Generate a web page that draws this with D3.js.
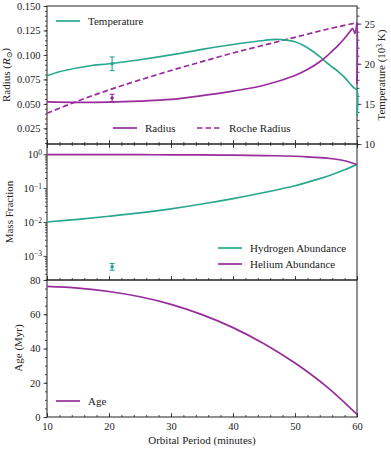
<!DOCTYPE html>
<html>
<head>
<meta charset="utf-8">
<script src="https://cdn.jsdelivr.net/npm/d3@7"></script>
<style>
  body { margin: 0; background: #fff; }
  svg text { font-family: "Liberation Serif", "DejaVu Serif", serif; fill: #222; }
</style>
</head>
<body>
<svg id="chart" width="391" height="449" font-family="Liberation Serif, serif"></svg>
<script>
// orbital period (minutes) for each series
let periodTemp = [10, 12, 15, 17, 20, 25, 30, 35, 40, 45, 47, 50, 52, 54, 55, 56, 57, 58, 59, 59.5, 60, 60];
let temperature = [18.5, 19.0, 19.5, 19.75, 20.0, 20.5, 21.1, 21.8, 22.4, 22.9, 23.05, 22.75, 22.0, 20.9, 20.2, 19.6, 19.0, 18.3, 17.4, 17.0, 16.7, 13.5];

let periodRad = [10, 15, 20, 25, 30, 35, 40, 45, 50, 52, 54, 55, 56, 57, 58, 59, 59.3, 59.7, 60, 60];
let radius = [0.052, 0.0515, 0.0518, 0.0528, 0.0545, 0.0585, 0.063, 0.069, 0.079, 0.085, 0.093, 0.098, 0.104, 0.110, 0.117, 0.125, 0.127, 0.122, 0.133, 0.070];

let periodRoche = [10, 15, 20, 25, 30, 35, 40, 45, 50, 55, 60];
let rocheRadius = [0.0404, 0.0530, 0.0642, 0.0745, 0.0841, 0.0932, 0.102, 0.110, 0.118, 0.126, 0.133];

let periodAbund = [10, 15, 20, 25, 30, 35, 40, 45, 50, 52, 54, 56, 58, 60];
let hydrogen = [0.0100, 0.0120, 0.0148, 0.0186, 0.0245, 0.0339, 0.0490, 0.0741, 0.117, 0.148, 0.190, 0.251, 0.347, 0.50];
let helium = [0.975, 0.973, 0.970, 0.966, 0.960, 0.951, 0.936, 0.911, 0.868, 0.837, 0.795, 0.734, 0.638, 0.49];

let periodAge = [10, 15, 20, 25, 30, 35, 40, 45, 50, 55, 60];
let age = [76.3, 75.3, 73.3, 70.2, 65.8, 59.8, 52.2, 42.8, 31.5, 18, 1.5];

// observed values with error bars
let obsPeriod = 20.5;
let obsTemp = [20.0, 0.85];
let obsRadius = [0.056, 0.0038];
let obsHydrogen = [4.8e-4, 3.8e-4, 6.0e-4];

let radiusTicks = [0.025, 0.050, 0.075, 0.100, 0.125, 0.150];
let tempTicks = [10, 15, 20, 25];
let massTicks = [1e-3, 1e-2, 1e-1, 1];
let ageTicks = [0, 20, 40, 60, 80];
let periodTicks = [10, 20, 30, 40, 50, 60];

let teal = '#2aa88f', purple = '#972c9c';
let left = 47, right = 357;
let panels = [[6, 144], [144, 280], [280, 417]];

let svg = d3.select('#chart');

let x = d3.scaleLinear().domain([10, 60]).range([left, right]);
let yRad = d3.scaleLinear().domain([0.009, 0.150]).range([panels[0][1], panels[0][0]]);
let yTemp = d3.scaleLinear().domain([10, 27.2]).range([panels[0][1], panels[0][0]]);
let yMass = d3.scaleLog().domain([Math.pow(10, -3.71), Math.pow(10, 0.3)]).range([panels[1][1], panels[1][0]]);
let yAge = d3.scaleLinear().domain([0, 80]).range([panels[2][1], panels[2][0]]);

function styleAxis(g) {
	g.attr('font-family', 'Liberation Serif, serif');
	g.select('.domain').remove();
	g.selectAll('line').attr('stroke', '#222').attr('stroke-width', 0.8);
	g.selectAll('text').attr('font-size', '10.5px').attr('fill', '#222');
}

// x ticks on panel edges
panels.forEach(function(p, i) {
	svg.append('g')
		.attr('transform', 'translate(0,' + p[1] + ')')
		.call(d3.axisTop(x).tickValues(d3.range(10, 61, 2)).tickSize(2).tickFormat(''))
		.call(styleAxis);
	svg.append('g')
		.attr('transform', 'translate(0,' + p[1] + ')')
		.call(d3.axisTop(x).tickValues(periodTicks).tickSize(4).tickFormat(''))
		.call(styleAxis);
});
svg.append('g')
	.attr('transform', 'translate(0,' + panels[1][0] + ')')
	.call(d3.axisBottom(x).tickValues(d3.range(10, 61, 2)).tickSize(2).tickFormat(''))
	.call(styleAxis);
svg.append('g')
	.attr('transform', 'translate(0,' + panels[1][0] + ')')
	.call(d3.axisBottom(x).tickValues(periodTicks).tickSize(4).tickFormat(''))
	.call(styleAxis);

// bottom labels
svg.append('g')
	.attr('transform', 'translate(0,' + panels[2][1] + ')')
	.call(d3.axisBottom(x).tickValues(periodTicks).tickSize(0).tickPadding(6).tickFormat(d3.format('d')))
	.call(styleAxis);

// left axes
svg.append('g').attr('transform', 'translate(' + left + ',0)')
	.call(d3.axisLeft(yRad).tickValues(d3.range(0.010, 0.1501, 0.005)).tickSize(2).tickFormat(''))
	.call(styleAxis);
svg.append('g').attr('transform', 'translate(' + left + ',0)')
	.call(d3.axisLeft(yRad).tickValues(radiusTicks).tickSize(3.5).tickPadding(3).tickFormat(d3.format('.3f')))
	.call(styleAxis);

let minorMass = [];
[-4, -3, -2, -1, 0].forEach(function(e) {
	for (let k = 2; k <= 9; k++) {
		let v = k * Math.pow(10, e);
		if (v > yMass.domain()[0] && v < yMass.domain()[1]) minorMass.push(v);
	}
});
svg.append('g').attr('transform', 'translate(' + left + ',0)')
	.call(d3.axisLeft(yMass).tickValues(minorMass).tickSize(2).tickFormat(''))
	.call(styleAxis);
let massAxis = svg.append('g').attr('transform', 'translate(' + left + ',0)')
	.call(d3.axisLeft(yMass).tickValues(massTicks).tickSize(3.5).tickPadding(3).tickFormat(''))
	.call(styleAxis);
massAxis.selectAll('.tick').append('text')
	.attr('x', -5).attr('dy', '0.32em')
	.attr('text-anchor', 'end').attr('font-size', '10.5px')
	.each(function(d) {
		let e = Math.round(Math.log10(d));
		let t = d3.select(this);
		t.append('tspan').text('10');
		t.append('tspan').attr('dy', '-0.45em').attr('font-size', '7.5px')
			.text(e < 0 ? '\u2212' + (-e) : String(e));
	});

svg.append('g').attr('transform', 'translate(' + left + ',0)')
	.call(d3.axisLeft(yAge).tickValues(d3.range(0, 81, 5)).tickSize(2).tickFormat(''))
	.call(styleAxis);
svg.append('g').attr('transform', 'translate(' + left + ',0)')
	.call(d3.axisLeft(yAge).tickValues(ageTicks).tickSize(3.5).tickPadding(3).tickFormat(d3.format('d')))
	.call(styleAxis);

// right temperature axis
svg.append('g').attr('transform', 'translate(' + right + ',0)')
	.call(d3.axisRight(yTemp).tickValues(d3.range(10, 27.1, 1)).tickSize(2.5).tickFormat(''))
	.call(styleAxis);
svg.append('g').attr('transform', 'translate(' + right + ',0)')
	.call(d3.axisRight(yTemp).tickValues(tempTicks).tickSize(4.5).tickPadding(3).tickFormat(d3.format('d')))
	.call(styleAxis);

// panel frames
panels.forEach(function(p) {
	svg.append('rect')
		.attr('x', left).attr('y', p[0])
		.attr('width', right - left).attr('height', p[1] - p[0])
		.attr('fill', 'none').attr('stroke', '#222').attr('stroke-width', 1);
});

let curve = d3.curveCatmullRom.alpha(0.5);
function drawLine(px, py, ys, color, dash) {
	let line = d3.line().curve(curve)
		.x(function(d, i) { return x(px[i]); })
		.y(function(d) { return ys(d); });
	svg.append('path').datum(py)
		.attr('d', line)
		.attr('fill', 'none')
		.attr('stroke', color)
		.attr('stroke-width', 1.7)
		.attr('stroke-dasharray', dash || null);
}

drawLine(periodRoche, rocheRadius, yRad, purple, '5.5,3');
drawLine(periodTemp, temperature, yTemp, teal);
drawLine(periodRad, radius, yRad, purple);
drawLine(periodAbund, hydrogen, yMass, teal);
drawLine(periodAbund, helium, yMass, purple);
drawLine(periodAge, age, yAge, purple);

function errorBar(cx, lo, hi, mid, color) {
	let g = svg.append('g').attr('stroke', color).attr('stroke-width', 1.1);
	g.append('line').attr('x1', cx).attr('x2', cx).attr('y1', lo).attr('y2', hi);
	g.append('line').attr('x1', cx - 2.5).attr('x2', cx + 2.5).attr('y1', lo).attr('y2', lo);
	g.append('line').attr('x1', cx - 2.5).attr('x2', cx + 2.5).attr('y1', hi).attr('y2', hi);
	svg.append('circle').attr('cx', cx).attr('cy', mid).attr('r', 1.8).attr('fill', color);
}
errorBar(x(obsPeriod), yTemp(obsTemp[0] - obsTemp[1]), yTemp(obsTemp[0] + obsTemp[1]), yTemp(obsTemp[0]), teal);
errorBar(x(obsPeriod), yRad(obsRadius[0] - obsRadius[1]), yRad(obsRadius[0] + obsRadius[1]), yRad(obsRadius[0]), purple);
errorBar(x(obsPeriod), yMass(obsHydrogen[1]), yMass(obsHydrogen[2]), yMass(obsHydrogen[0]), teal);

// legends
function legendItem(lx, ly, label, color, dash) {
	svg.append('line')
		.attr('x1', lx).attr('x2', lx + 24).attr('y1', ly).attr('y2', ly)
		.attr('stroke', color).attr('stroke-width', 1.7)
		.attr('stroke-dasharray', dash || null);
	svg.append('text')
		.attr('x', lx + 32).attr('y', ly).attr('dy', '0.35em')
		.attr('font-size', '11px').text(label);
}
legendItem(56, 21, 'Temperature', teal);
legendItem(113, 128, 'Radius', purple);
legendItem(197, 128, 'Roche Radius', purple, '5.5,3');
legendItem(218, 248, 'Hydrogen Abundance', teal);
legendItem(218, 264, 'Helium Abundance', purple);
legendItem(56, 401, 'Age', purple);

// axis titles
let radLabel = svg.append('text')
	.attr('transform', 'translate(10,75) rotate(-90)')
	.attr('text-anchor', 'middle').attr('font-size', '11px');
radLabel.append('tspan').text('Radius (');
radLabel.append('tspan').attr('font-style', 'italic').text('R');
radLabel.append('tspan').attr('font-size', '8px').attr('dy', '0.3em').text('\u2299');
radLabel.append('tspan').attr('dy', '-0.3em').text(')');

svg.append('text')
	.attr('transform', 'translate(13,212) rotate(-90)')
	.attr('text-anchor', 'middle').attr('font-size', '11px')
	.text('Mass Fraction');

svg.append('text')
	.attr('transform', 'translate(22,348) rotate(-90)')
	.attr('text-anchor', 'middle').attr('font-size', '11px')
	.text('Age (Myr)');

let tLabel = svg.append('text')
	.attr('transform', 'translate(385,75) rotate(-90)')
	.attr('text-anchor', 'middle').attr('font-size', '11px');
tLabel.append('tspan').text('Temperature (10');
tLabel.append('tspan').attr('font-size', '7.5px').attr('dy', '-0.45em').text('3');
tLabel.append('tspan').attr('dy', '0.3em').text(' K)');

svg.append('text')
	.attr('x', (left + right) / 2).attr('y', 444)
	.attr('text-anchor', 'middle').attr('font-size', '11px')
	.text('Orbital Period (minutes)');
</script>
</body>
</html>
